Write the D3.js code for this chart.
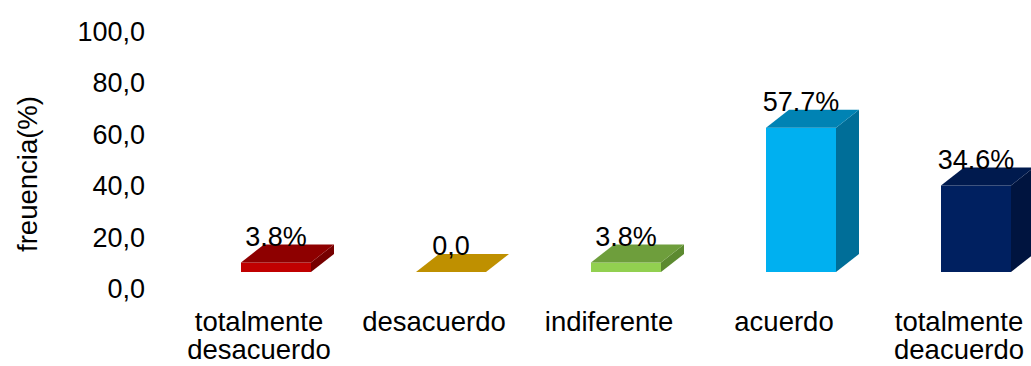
<!DOCTYPE html>
<html>
<head>
<meta charset="utf-8">
<script src="https://cdn.jsdelivr.net/npm/d3@7"></script>
<style>
  html, body { margin: 0; padding: 0; background: #fff; }
  svg { display: block; font-family: "Liberation Sans", Arial, sans-serif; }
</style>
</head>
<body>
<svg id="chart" width="1031" height="366"></svg>
<script>
// Categories (label lines), values and printed value labels
const categories = ["totalmente desacuerdo", "desacuerdo", "indiferente", "acuerdo", "totalmente deacuerdo"];
const categoryLines = [["totalmente", "desacuerdo"], ["desacuerdo"], ["indiferente"], ["acuerdo"], ["totalmente", "deacuerdo"]];
const values = [3.8, 0.0, 3.8, 57.7, 34.6];
const valueLabels = ["3.8%", "0,0", "3.8%", "57.7%", "34.6%"];
const tickValues = [0, 20, 40, 60, 80, 100];
const tickLabels = ["0,0", "20,0", "40,0", "60,0", "80,0", "100,0"];

// Face colours per bar: front, top, side
const frontColors = ["#C00000", "#BF9000", "#92D050", "#00B0F0", "#002060"];
const topColors   = ["#8E0000", "#BF9000", "#6E9E3C", "#0083B4", "#001A4E"];
const sideColors  = ["#760000", "#9E7700", "#5C8A30", "#006E98", "#00143F"];

const svg = d3.select("#chart");

// Depth of the 3D extrusion
const depthX = 23, depthY = 18;

const x = d3.scaleBand().domain(categories).range([188.5, 1063.5])
  .paddingInner(0.6).paddingOuter(0.3);
// Bar heights measured on the front plane
const yBar = d3.scaleLinear().domain([0, 100]).range([272, 22]);
// Axis labels sit on the back wall
const yAxis = d3.scaleLinear().domain([0, 100]).range([288, 31]);

// Y axis tick labels (no line, no tick marks)
const axis = d3.axisLeft(yAxis).tickValues(tickValues)
  .tickFormat((d, i) => tickLabels[i]).tickSize(0).tickPadding(0);
const gAxis = svg.append("g").attr("transform", "translate(145,0)").call(axis);
gAxis.select(".domain").remove();
gAxis.selectAll("text").attr("font-size", 27).attr("fill", "#000")
  .attr("font-family", "Liberation Sans, Arial, sans-serif").attr("dy", "0.35em");

// Y axis title
svg.append("text")
  .attr("transform", "translate(37,174) rotate(-90)")
  .attr("text-anchor", "middle")
  .attr("font-size", 27.5)
  .attr("fill", "#000")
  .text("freuencia(%)");

// 3D bars
const bars = svg.append("g").selectAll("g").data(categories).join("g");
bars.each(function (c, i) {
  const g = d3.select(this);
  const x0 = x(c), x1 = x(c) + x.bandwidth();
  const yb = yBar(0), yt = yBar(values[i]);
  if (values[i] > 0) {
    g.append("path")
      .attr("d", `M${x1},${yt}L${x1 + depthX},${yt - depthY}L${x1 + depthX},${yb - depthY}L${x1},${yb}Z`)
      .attr("fill", sideColors[i]);
    g.append("rect")
      .attr("x", x0).attr("y", yt).attr("width", x1 - x0).attr("height", yb - yt)
      .attr("fill", frontColors[i]);
  }
  g.append("path")
    .attr("d", `M${x0},${yt}L${x1},${yt}L${x1 + depthX},${yt - depthY}L${x0 + depthX},${yt - depthY}Z`)
    .attr("fill", topColors[i]);
});

// Value labels above each bar
svg.append("g").selectAll("text").data(categories).join("text")
  .attr("x", c => x(c) + x.bandwidth() / 2)
  .attr("y", (c, i) => yBar(values[i]) - 17)
  .attr("text-anchor", "middle")
  .attr("font-size", 27)
  .attr("fill", "#000")
  .text((c, i) => valueLabels[i]);

// Category labels
const catG = svg.append("g").selectAll("text").data(categories).join("text")
  .attr("x", c => x(c) + 18)
  .attr("y", 331)
  .attr("text-anchor", "middle")
  .attr("font-size", 27.5)
  .attr("fill", "#000");
catG.selectAll("tspan").data((c, i) => categoryLines[i]).join("tspan")
  .attr("x", function () { return d3.select(this.parentNode).attr("x"); })
  .attr("dy", (d, j) => j === 0 ? 0 : 28)
  .text(d => d);
</script>
</body>
</html>
